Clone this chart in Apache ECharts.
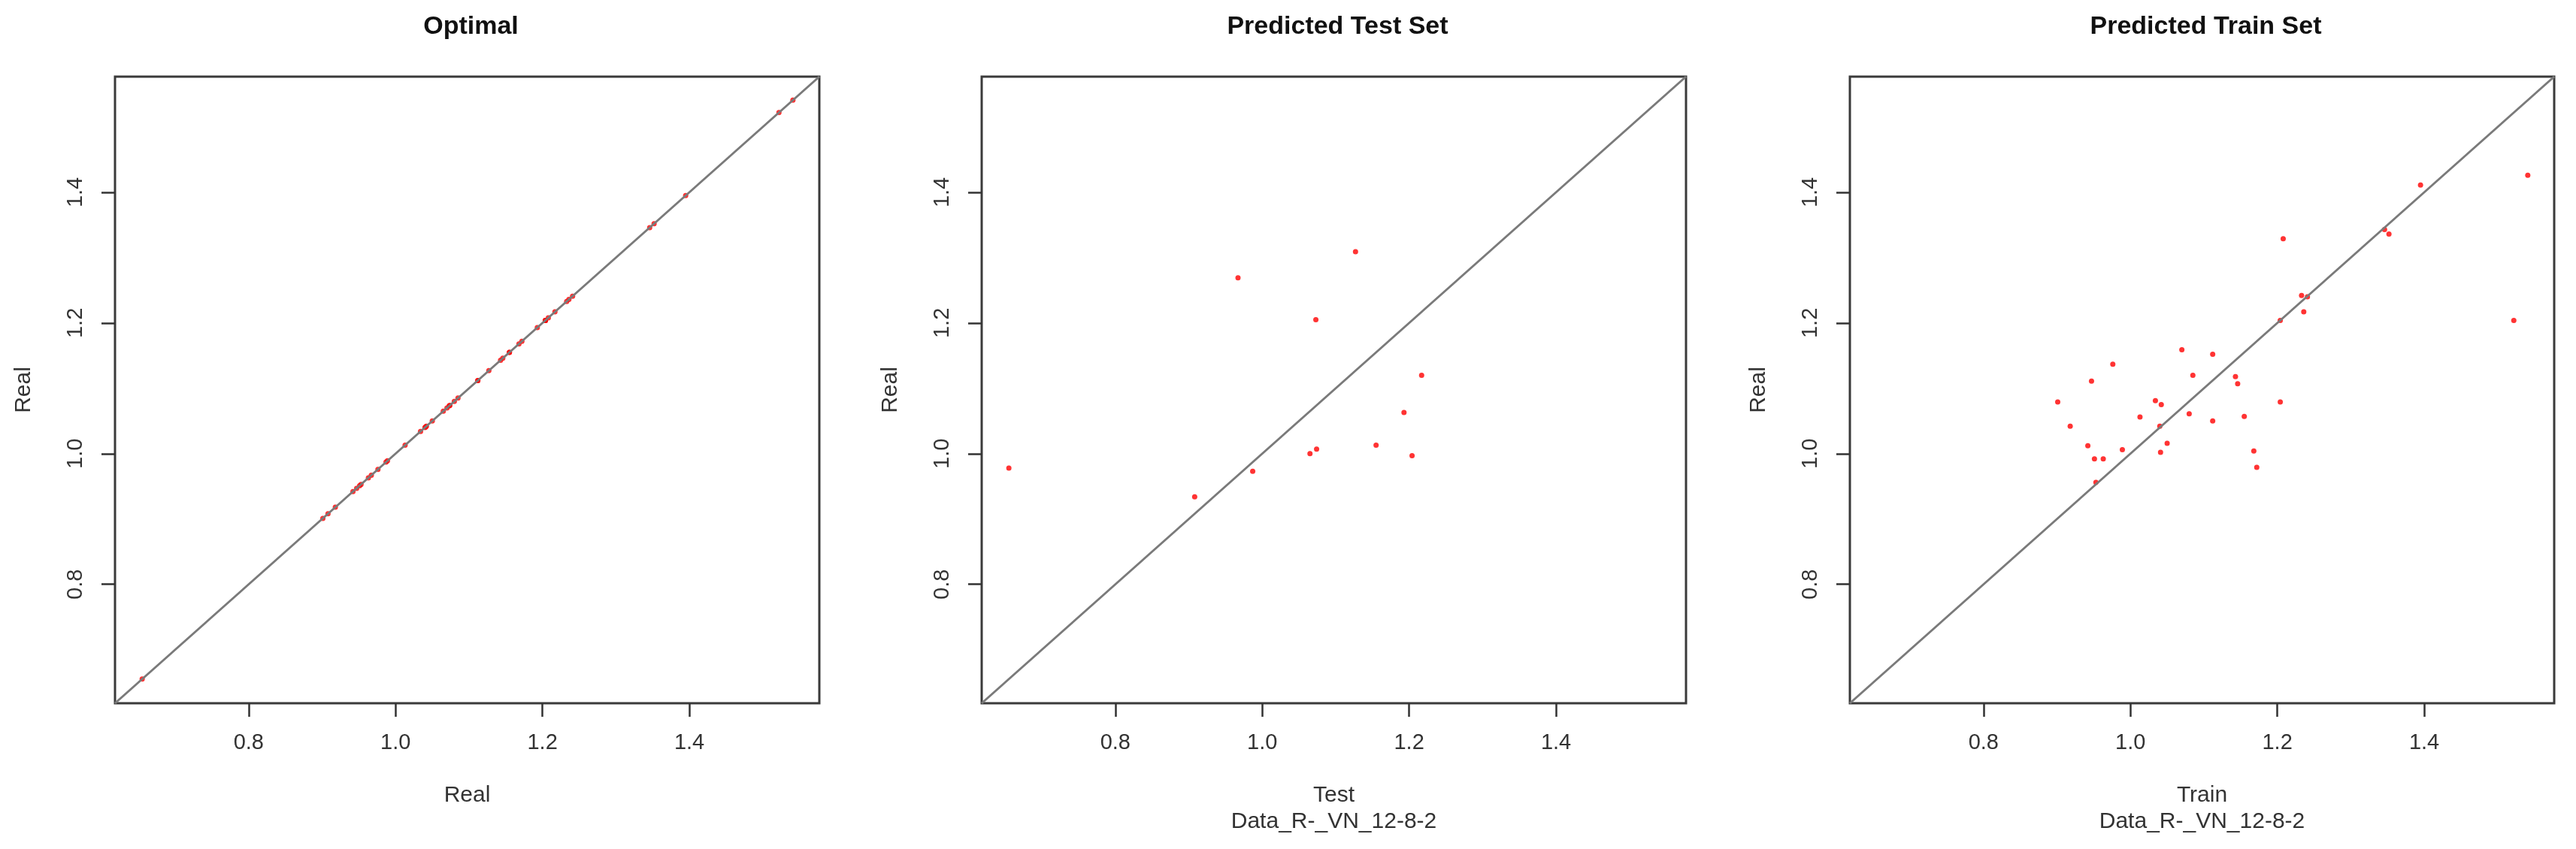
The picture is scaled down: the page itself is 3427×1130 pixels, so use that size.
<!DOCTYPE html>
<html>
<head>
<meta charset="utf-8">
<script src="https://cdn.jsdelivr.net/npm/echarts@6/dist/echarts.min.js"></script>
<style>
  html, body { margin: 0; padding: 0; background: #ffffff; }
  #chart { width: 3427px; height: 1130px; }
</style>
</head>
<body>
<div id="chart"></div>
<script>
// ---- Data ----
const panelTitles = ['Optimal', 'Predicted Test Set', 'Predicted Train Set'];
const xAxisNames = ['Real', 'Test\nData_R-_VN_12-8-2', 'Train\nData_R-_VN_12-8-2'];
const yAxisName = 'Real';
const tickValues = [0.8, 1.0, 1.2, 1.4];
const axisRange = [0.618, 1.577];

const optimalReal = [0.655, 0.901, 0.908, 0.918, 0.942, 0.947, 0.951, 0.953, 0.963, 0.967,
  0.976, 0.987, 0.989, 1.013, 1.034, 1.040, 1.041, 1.042, 1.050, 1.065, 1.070, 1.073,
  1.074, 1.080, 1.085, 1.112, 1.112, 1.127, 1.143, 1.146, 1.155, 1.155, 1.168, 1.172,
  1.193, 1.204, 1.204, 1.204, 1.208, 1.217, 1.233, 1.236, 1.241, 1.346, 1.352, 1.395,
  1.522, 1.541];

const testPredicted = [0.655, 0.908, 0.967, 0.987, 1.065, 1.074, 1.073, 1.127, 1.155, 1.193, 1.204, 1.217];
const testReal      = [0.978, 0.934, 1.269, 0.973, 1.000, 1.007, 1.205, 1.309, 1.013, 1.063, 0.997, 1.120];

const trainPredicted = [1.541, 1.395, 1.208, 1.346, 1.352, 1.233, 1.241, 1.236, 1.204, 1.522,
  1.070, 1.112, 0.976, 1.085, 0.947, 1.143, 1.146, 0.901, 1.034, 1.042, 1.204, 1.013,
  1.080, 1.112, 1.155, 0.918, 1.040, 0.942, 1.050, 0.989, 1.041, 1.168, 0.951, 0.963,
  1.172, 0.953];
const trainReal = [1.426, 1.411, 1.329, 1.343, 1.336, 1.242, 1.240, 1.217, 1.204, 1.204,
  1.159, 1.152, 1.137, 1.120, 1.111, 1.118, 1.107, 1.079, 1.081, 1.075, 1.079, 1.056,
  1.061, 1.050, 1.057, 1.042, 1.042, 1.012, 1.016, 1.006, 1.002, 1.004, 0.992, 0.992,
  0.979, 0.956];

// ---- Build chart ----
const FONT = "'Liberation Sans', Arial, sans-serif";
const gridLefts = [153, 1306, 2461];
const gridW = 937, gridTop = 102, gridH = 834;

const pointSets = [
  optimalReal.map(v => [v, v]),
  testPredicted.map((v, i) => [v, testReal[i]]),
  trainPredicted.map((v, i) => [v, trainReal[i]])
];

const grids = [], xAxes = [], yAxes = [], series = [], titles = [];
for (let i = 0; i < 3; i++) {
  grids.push({
    left: gridLefts[i], top: gridTop, width: gridW, height: gridH,
    show: true, borderWidth: 3, borderColor: '#3a3a3a', backgroundColor: 'transparent',
    containLabel: false
  });
  titles.push({
    text: panelTitles[i],
    left: gridLefts[i] + gridW / 2, top: 14, textAlign: 'center',
    textStyle: { fontFamily: FONT, fontSize: 34, fontWeight: 'bold', color: '#111' }
  });
  const axisCommon = {
    type: 'value', min: axisRange[0], max: axisRange[1],
    splitLine: { show: false },
    axisLine: { show: false },
    axisTick: { show: true, customValues: tickValues, length: 18, inside: false,
                lineStyle: { color: '#333', width: 2.5 } },
    axisLabel: { show: true, customValues: tickValues, margin: 38,
                 formatter: v => Number(v).toFixed(1),
                 fontFamily: FONT, fontSize: 29, color: '#333' }
  };
  xAxes.push(Object.assign({}, axisCommon, {
    gridIndex: i,
    name: xAxisNames[i], nameLocation: 'middle', nameGap: 105,
    nameTextStyle: { fontFamily: FONT, fontSize: 30, color: '#333', lineHeight: 35 }
  }));
  yAxes.push(Object.assign({}, axisCommon, {
    gridIndex: i,
    axisLabel: Object.assign({}, axisCommon.axisLabel, { rotate: 90 }),
    name: yAxisName, nameLocation: 'middle', nameGap: 106,
    nameTextStyle: { fontFamily: FONT, fontSize: 30, color: '#333' }
  }));
  series.push({
    type: 'scatter', xAxisIndex: i, yAxisIndex: i,
    data: pointSets[i], symbol: 'circle', symbolSize: 7,
    itemStyle: { color: '#ff0000' }, z: 2, silent: true
  });
  series.push({
    type: 'line', xAxisIndex: i, yAxisIndex: i,
    data: [[axisRange[0], axisRange[0]], [axisRange[1], axisRange[1]]],
    showSymbol: false, symbol: 'none',
    lineStyle: { color: '#7a7a7a', width: 3 }, z: 3, silent: true
  });
}

const chart = echarts.init(document.getElementById('chart'), null, { renderer: 'canvas' });
chart.setOption({
  animation: false,
  backgroundColor: '#ffffff',
  title: titles,
  grid: grids,
  xAxis: xAxes,
  yAxis: yAxes,
  series: series
});
</script>
</body>
</html>
